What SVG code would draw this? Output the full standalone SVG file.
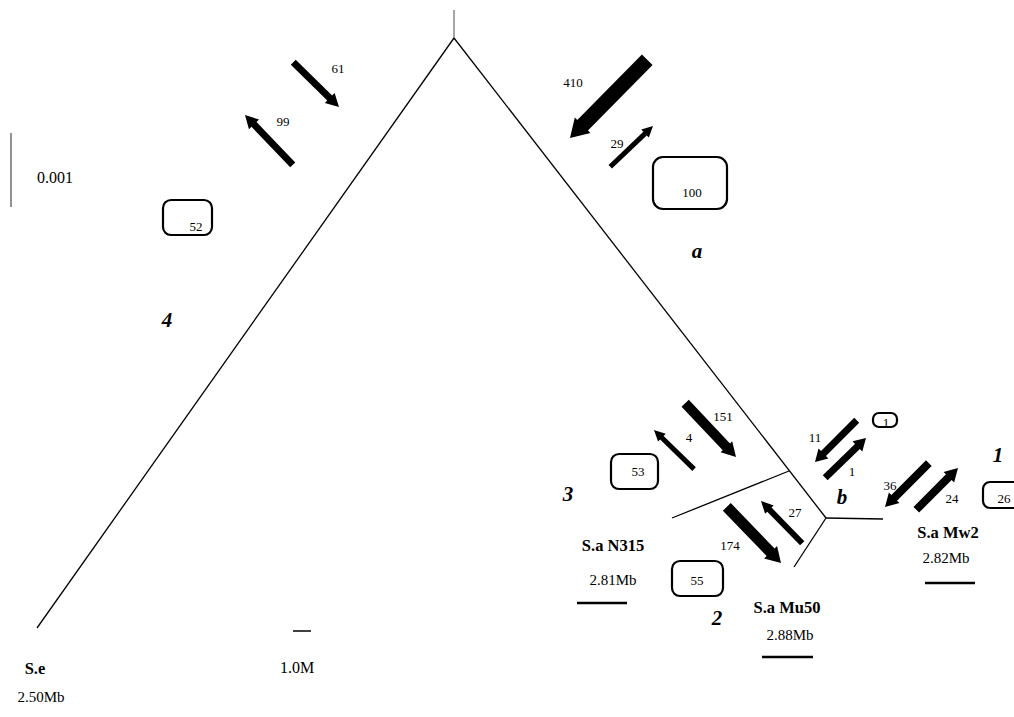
<svg xmlns="http://www.w3.org/2000/svg" width="1014" height="717" viewBox="0 0 1014 717">
<style>
.br{stroke:#000;stroke-width:1.3;fill:none}
.n{font-family:"Liberation Serif",serif;font-size:13px;fill:#000;text-anchor:middle}
.lb{font-family:"Liberation Serif",serif;font-size:16.5px;font-weight:bold;fill:#000;text-anchor:middle}
.sz{font-family:"Liberation Serif",serif;font-size:15px;fill:#000;text-anchor:middle}
.sc{font-family:"Liberation Serif",serif;font-size:16px;fill:#000;text-anchor:start}
.it{font-family:"Liberation Serif",serif;font-size:21px;font-weight:bold;font-style:italic;fill:#000;text-anchor:middle}
.box{fill:#fff;stroke:#000;stroke-width:2.2}
.bar{stroke:#000;stroke-width:2.5}
.ar{fill:#000}
</style>
<rect width="1014" height="717" fill="#fff"/>
<g id="connectors">
<line x1="454" y1="10" x2="454" y2="38" stroke="#777" stroke-width="1.3"/>
<line class="br" x1="454" y1="38" x2="37" y2="628"/>
<line class="br" x1="454" y1="38" x2="826" y2="518"/>
<line class="br" x1="789" y1="471" x2="672" y2="518"/>
<line class="br" x1="826" y1="518" x2="883" y2="519"/>
<line class="br" x1="826" y1="518" x2="794" y2="567"/>
<g transform="translate(339,107) rotate(44.4)"><polygon class="ar" points="0,0 -13,-7 -13,-3.5 -64,-3.5 -64,3.5 -13,3.5 -13,7"/></g>
<g transform="translate(245,115) rotate(-133.8)"><polygon class="ar" points="0,0 -13,-7 -13,-3.5 -69,-3.5 -69,3.5 -13,3.5 -13,7"/></g>
<g transform="translate(570,138) rotate(134.6)"><polygon class="ar" points="0,0 -18,-11 -18,-7.5 -110,-7.5 -110,7.5 -18,7.5 -18,11"/></g>
<g transform="translate(653,126) rotate(-43.6)"><polygon class="ar" points="0,0 -11,-5.5 -11,-2.5 -59,-2.5 -59,2.5 -11,2.5 -11,5.5"/></g>
<g transform="translate(736,457) rotate(46.6)"><polygon class="ar" points="0,0 -14,-8 -14,-5 -74,-5 -74,5 -14,5 -14,8"/></g>
<g transform="translate(654,430) rotate(-135.7)"><polygon class="ar" points="0,0 -11,-5.5 -11,-2.5 -56,-2.5 -56,2.5 -11,2.5 -11,5.5"/></g>
<g transform="translate(781,563) rotate(46)"><polygon class="ar" points="0,0 -15,-9 -15,-5.5 -78,-5.5 -78,5.5 -15,5.5 -15,9"/></g>
<g transform="translate(761,501) rotate(-134.3)"><polygon class="ar" points="0,0 -12,-6 -12,-3 -59,-3 -59,3 -12,3 -12,6"/></g>
<g transform="translate(815,462) rotate(135)"><polygon class="ar" points="0,0 -12,-7 -12,-3.5 -59,-3.5 -59,3.5 -12,3.5 -12,7"/></g>
<g transform="translate(866,438) rotate(-44.3)"><polygon class="ar" points="0,0 -12,-7 -12,-3.5 -57,-3.5 -57,3.5 -12,3.5 -12,7"/></g>
<g transform="translate(885,507) rotate(135)"><polygon class="ar" points="0,0 -13,-7.5 -13,-4 -62,-4 -62,4 -13,4 -13,7.5"/></g>
<g transform="translate(958,468) rotate(-45)"><polygon class="ar" points="0,0 -13,-7.5 -13,-4 -59,-4 -59,4 -13,4 -13,7.5"/></g>
<text class="n" x="338" y="73">61</text>
<text class="n" x="283" y="126">99</text>
<text class="n" x="573" y="87">410</text>
<text class="n" x="617" y="148">29</text>
<text class="n" x="723" y="421">151</text>
<text class="n" x="689" y="442">4</text>
<text class="n" x="730" y="550">174</text>
<text class="n" x="795" y="517">27</text>
<text class="n" x="815" y="442">11</text>
<text class="n" x="852" y="476">1</text>
<text class="n" x="890" y="490">36</text>
<text class="n" x="952" y="503">24</text>
</g>
<g id="scale">
<line x1="11" y1="133" x2="11" y2="207" stroke="#555" stroke-width="1.3"/>
<text class="sc" x="37" y="183">0.001</text>
<line x1="293" y1="631" x2="311" y2="631" stroke="#000" stroke-width="1.5"/>
<text class="sc" x="280" y="673">1.0M</text>
</g>
<g id="box100"><rect class="box" x="653" y="157" width="74" height="52" rx="10"/><text class="n" x="692" y="197">100</text></g>
<g id="box52"><rect class="box" x="163" y="200" width="49" height="35" rx="8"/><text class="n" x="196" y="231">52</text></g>
<g id="box53"><rect class="box" x="611" y="454" width="47" height="35" rx="8"/><text class="n" x="638" y="476">53</text></g>
<g id="box55"><rect class="box" x="672" y="561" width="51" height="35" rx="8"/><text class="n" x="697" y="585">55</text></g>
<g id="box1"><rect class="box" x="873" y="413" width="24" height="14" rx="6"/><text class="n" x="886" y="427" font-size="10">1</text></g>
<g id="box26"><rect class="box" x="983" y="482" width="40" height="26" rx="7"/><text class="n" x="1004" y="503">26</text></g>
<g id="clusters">
<text class="it" x="697" y="258">a</text>
<text class="it" x="842" y="504">b</text>
<text class="it" x="167" y="327">4</text>
<text class="it" x="568" y="501">3</text>
<text class="it" x="717" y="625">2</text>
<text class="it" x="998" y="462">1</text>
</g>
<g id="Se"><text class="lb" x="35" y="674">S.e</text><text class="sz" x="41" y="702">2.50Mb</text></g>
<g id="N315"><text class="lb" x="613" y="551">S.a N315</text><text class="sz" x="613" y="585">2.81Mb</text><line class="bar" x1="577" y1="603" x2="627" y2="603"/></g>
<g id="Mu50"><text class="lb" x="787" y="613">S.a Mu50</text><text class="sz" x="790" y="640">2.88Mb</text><line class="bar" x1="762" y1="657" x2="813" y2="657"/></g>
<g id="Mw2"><text class="lb" x="948" y="538">S.a Mw2</text><text class="sz" x="946" y="563">2.82Mb</text><line class="bar" x1="925" y1="583" x2="975" y2="583"/></g>
</svg>
